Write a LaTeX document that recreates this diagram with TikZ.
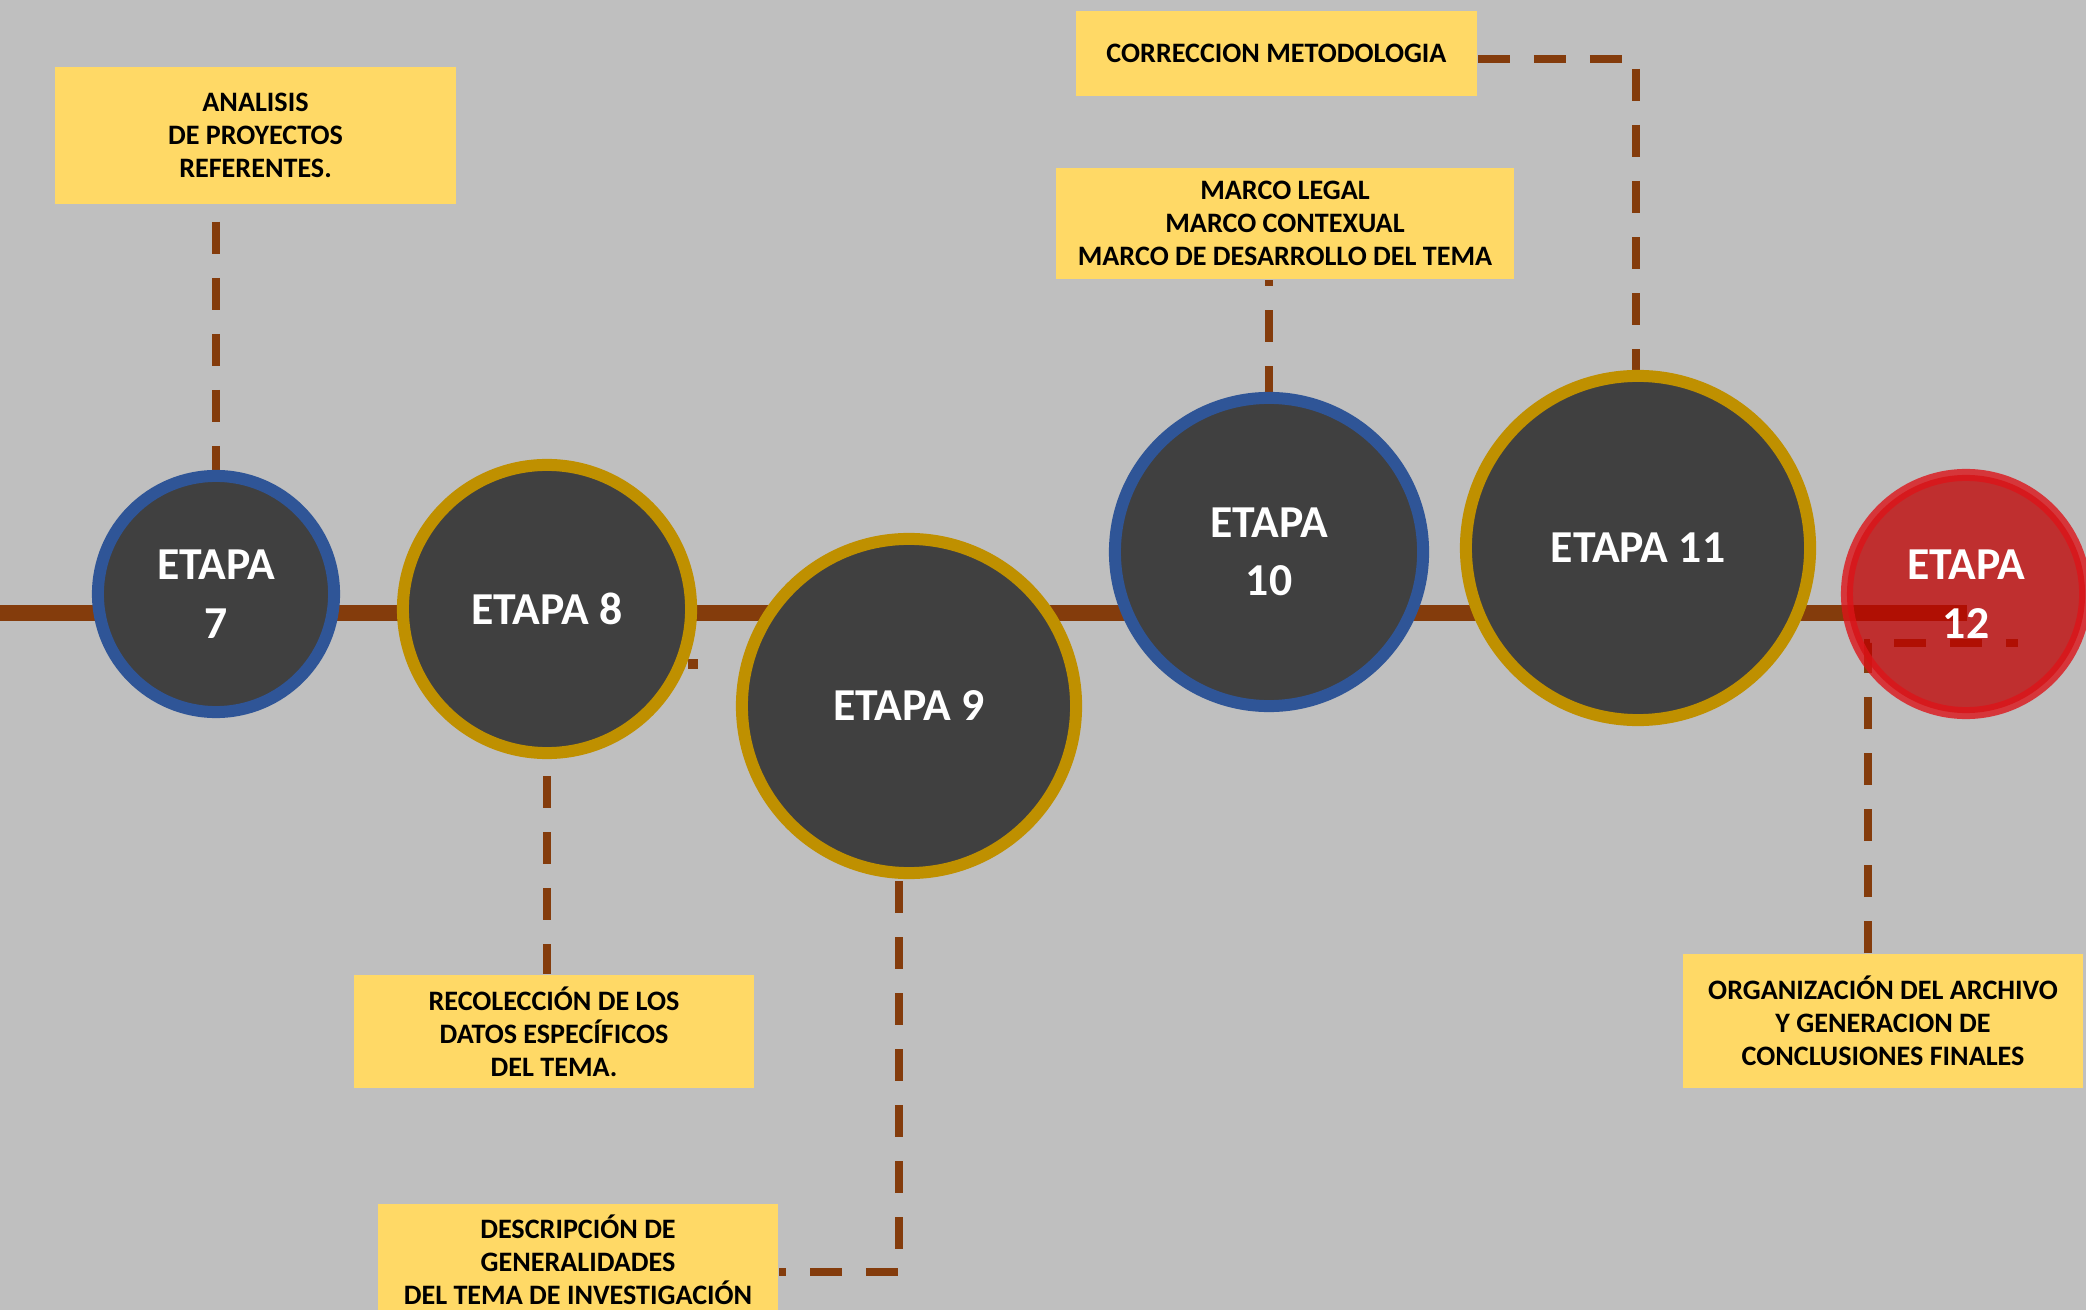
\documentclass[tikz,border=0pt]{standalone}
\usepackage{fontspec}
\setmainfont{Carlito}
\usepackage{tikz}
\usetikzlibrary{positioning}
\definecolor{fondo}{HTML}{BFBFBF}
\definecolor{oscuro}{HTML}{404040}
\definecolor{azul}{HTML}{2F5597}
\definecolor{oro}{HTML}{BF9000}
\definecolor{nota}{HTML}{FFD966}
\definecolor{cafe}{HTML}{843C0C}
\definecolor{rojo}{HTML}{C00000}
\definecolor{rojoborde}{HTML}{DC1419}

\begin{document}
\begin{tikzpicture}[
    x=0.01cm, y=-0.01cm,
    etapa/.style={circle, fill=oscuro, line width=0.12cm, text=white, align=center,
        font=\fontsize{13}{16.6}\selectfont\bfseries},
    notabox/.style={rectangle, fill=nota, align=center, inner sep=0pt,
        font=\fontsize{8}{9.4}\selectfont\bfseries},
    linea/.style={cafe, line width=0.16cm},
    link/.style={cafe, line width=0.08cm, dash pattern=on 0.32cm off 0.24cm},
]
% Fondo
\fill[fondo] (0,0) rectangle (2086,1310);
\useasboundingbox (0,0) rectangle (2086,1310);

% Linea de tiempo
\coordinate (t0) at (0,613);
\coordinate (t1) at (1967,613);
\draw[linea] (t0) -- (t1);

% Notas
\node[notabox, minimum width=4.01cm, minimum height=1.37cm] (n7) at (255.5,135.5) {ANALISIS\\DE PROYECTOS\\REFERENTES.};
\node[notabox, minimum width=4.01cm, minimum height=0.85cm] (n11) at (1276.5,53.5) {CORRECCION METODOLOGIA};
\node[notabox, minimum width=4.58cm, minimum height=1.11cm] (n10) at (1285,223.5) {MARCO LEGAL\\MARCO CONTEXUAL\\MARCO DE DESARROLLO DEL TEMA};
\node[notabox, minimum width=4.00cm, minimum height=1.13cm] (n8) at (554,1031.5) {RECOLECCIÓN DE LOS\\DATOS ESPECÍFICOS\\DEL TEMA.};
\node[notabox, minimum width=4.00cm, minimum height=1.12cm] (n9) at (578,1260) {DESCRIPCIÓN DE\\GENERALIDADES\\DEL TEMA DE INVESTIGACIÓN};
\node[notabox, minimum width=4.00cm, minimum height=1.34cm] (n12) at (1883,1021) {ORGANIZACIÓN DEL ARCHIVO\\Y GENERACION DE\\CONCLUSIONES FINALES};

% Etapas (posiciones)
\coordinate (p7) at (216,594);
\coordinate (p8) at (547,609);
\coordinate (p9) at (899,881);
\coordinate (p10) at (1269,398);
\coordinate (p11) at (1636,370);
\coordinate (k11) at (1636,59);
\coordinate (k9) at (899,1272);
\coordinate (k12) at (1868,643);
\coordinate (c12) at (2018,643);

% Conectores
\draw[link, shorten <=0.17cm] (n7.south -| p7) -- ++(0,268);
\draw[link] (n11.east |- k11) -- (k11) -- (p11);
\draw[link] (p10) -- (n10.south -| p10);
\draw[link] (p8) ++(0,167) -- (n8.north -| p8);
\draw[link] (p9) -- (k9) -- (n9.east |- k9);
\draw[link] (n12.north -| k12) -- (k12) -- (c12);
\fill[cafe] (688,659) rectangle (698,669);

% Etapas
\node[etapa, draw=azul, minimum size=2.36cm] (e7) at (p7) {ETAPA\\7};
\node[etapa, draw=oro, minimum size=2.88cm] (e8) at (p8) {ETAPA 8};
\node[etapa, draw=oro, minimum size=3.34cm] (e9) at (909,706) {ETAPA 9};
\node[etapa, draw=azul, minimum size=3.08cm] (e10) at (1269,552) {ETAPA\\10};
\node[etapa, draw=oro, minimum size=3.44cm] (e11) at (1638,548) {ETAPA 11};
\node[etapa, fill=rojo, fill opacity=0.75, draw=rojoborde, draw opacity=0.8,
    text opacity=1, minimum size=2.38cm] (e12) at (1966,594) {ETAPA\\12};
\end{tikzpicture}
\end{document}
